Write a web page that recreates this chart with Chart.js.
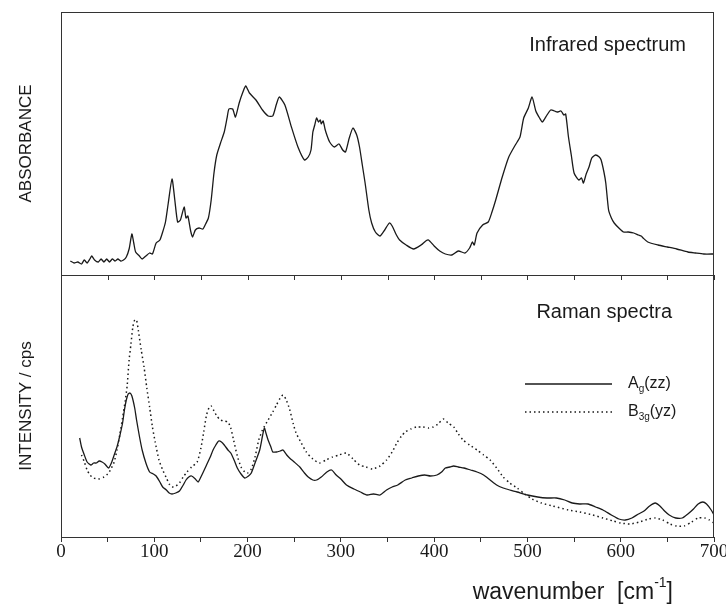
<!DOCTYPE html>
<html>
<head>
<meta charset="utf-8">
<title>Infrared and Raman spectra</title>
<script src="https://cdn.jsdelivr.net/npm/chart.js@4.4.0/dist/chart.umd.min.js"></script>
<style>
  html, body { margin: 0; padding: 0; background: #fff; }
</style>
</head>
<body>
<canvas id="spectra" width="726" height="610"></canvas>
<script>
// infrared spectrum (arbitrary absorbance units)
const irWavenumber = [10, 14, 18, 22, 25, 28, 31, 33, 36, 40, 43, 46, 49, 52, 55, 58, 61, 64, 67, 70,
  73, 76, 78, 80, 84, 87, 91, 95, 98, 102, 106, 109, 112, 115, 119, 122, 125, 128, 132, 134,
  136, 139, 141, 144, 148, 152, 155, 158, 161, 164, 167, 171, 175, 178, 180, 184, 187, 191, 195, 198,
  202, 209, 216, 222, 227, 231, 234, 240, 247, 254, 261, 265, 268, 270, 272, 274, 276, 278, 279, 281,
  283, 285, 288, 293, 298, 302, 305, 309, 313, 317, 320, 323, 326, 330, 333, 337, 342, 347, 352, 355,
  359, 363, 370, 378, 386, 391, 394, 400, 406, 412, 419, 426, 433, 438, 441, 443, 446, 452, 458, 462,
  466, 473, 480, 487, 492, 496, 501, 505, 509, 513, 516, 521, 525, 529, 532, 536, 539, 541, 544, 547,
  550, 555, 558, 560, 563, 566, 569, 573, 577, 579, 582, 584, 587, 590, 593, 598, 603, 608, 614, 619,
  622, 624, 629, 640, 650, 660, 672, 680, 689, 700];
const irAbsorbance = [14, 12, 13, 11, 15, 12, 16, 19, 15, 13, 16, 13, 16, 13, 16, 14, 16, 14, 15, 18,
  26, 41, 32, 23, 19, 16, 19, 22, 21, 32, 35, 43, 53, 72, 96, 75, 53, 55, 68, 57,
  59, 44, 38, 45, 47, 46, 51, 57, 75, 102, 120, 132, 143, 157, 166, 166, 158, 172, 183, 189,
  182, 175, 165, 159, 159, 171, 178, 170, 148, 128, 115, 118, 125, 143, 150, 157, 153, 155, 151, 154,
  146, 140, 133, 128, 131, 125, 123, 137, 147, 140, 128, 110, 92, 65, 52, 43, 39, 45, 52, 49,
  41, 35, 30, 26, 30, 34, 35, 29, 24, 21, 20, 24, 22, 27, 33, 30, 42, 50, 53, 63,
  75, 98, 118, 130, 138, 157, 167, 178, 164, 157, 153, 160, 165, 164, 163, 164, 160, 161, 138, 120,
  102, 95, 97, 92, 101, 108, 117, 120, 118, 115, 103, 92, 65, 57, 52, 47, 43, 43, 42, 40,
  39, 37, 33, 30, 28, 26, 23, 22, 21, 21];

// Raman spectra (arbitrary intensity units)
const agWavenumber = [20, 22, 25, 28, 32, 35, 38, 41, 44, 47, 51, 54, 57, 60, 63, 66, 68, 70, 72, 74,
  76, 79, 81, 84, 87, 91, 95, 99, 102, 106, 109, 113, 116, 119, 123, 127, 131, 134, 137, 140,
  144, 147, 151, 156, 160, 163, 166, 169, 172, 175, 179, 182, 186, 189, 193, 197, 201, 204, 208, 213,
  216, 218, 220, 222, 225, 227, 231, 235, 238, 242, 245, 250, 256, 261, 265, 270, 274, 279, 285, 290,
  295, 300, 306, 314, 321, 328, 335, 342, 349, 355, 361, 369, 376, 383, 390, 396, 403, 408, 412, 417,
  421, 426, 432, 439, 446, 453, 460, 467, 474, 481, 489, 500, 511, 521, 531, 540, 548, 556, 565, 573,
  581, 590, 598, 605, 612, 619, 625, 631, 637, 642, 647, 652, 659, 666, 672, 678, 683, 688, 692, 697, 700];
const agIntensity = [99, 90, 82, 75, 72, 74, 74, 76, 75, 73, 69, 74, 82, 90, 101, 114, 127, 137, 143, 144,
  141, 129, 117, 101, 87, 74, 65, 63, 61, 55, 50, 47, 44, 43, 44, 46, 52, 57, 60, 61,
  58, 55, 62, 72, 80, 87, 92, 96, 95, 92, 87, 84, 76, 69, 63, 59, 61, 64, 74, 87,
  101, 109, 103, 97, 90, 85, 85, 86, 87, 82, 79, 75, 70, 64, 60, 57, 57, 60, 65, 67,
  62, 58, 52, 48, 45, 42, 43, 42, 47, 50, 52, 57, 59, 61, 62, 61, 62, 65, 69, 70,
  71, 70, 69, 67, 65, 62, 57, 52, 49, 47, 45, 42, 40, 39, 39, 37, 34, 33, 33, 30,
  27, 22, 18, 17, 19, 23, 26, 31, 34, 31, 26, 22, 19, 19, 23, 28, 33, 35, 33, 27, 22];

const b3gWavenumber = [22, 25, 28, 31, 35, 40, 46, 50, 53, 57, 60, 63, 66, 69, 71, 73, 75, 77, 79, 81,
  83, 86, 89, 92, 95, 98, 101, 105, 109, 113, 116, 119, 123, 127, 131, 135, 140, 146, 150, 153,
  156, 159, 161, 164, 167, 171, 175, 179, 182, 185, 189, 193, 197, 200, 204, 208, 212, 216, 222, 227,
  231, 235, 238, 241, 245, 249, 252, 257, 263, 270, 277, 284, 291, 298, 306, 313, 320, 327, 334, 342,
  349, 355, 360, 365, 369, 375, 381, 388, 394, 399, 404, 410, 415, 421, 426, 431, 438, 446, 453, 460,
  467, 474, 481, 489, 497, 505, 515, 527, 544, 556, 570, 581, 592, 600, 610, 620, 630, 637, 645, 653,
  660, 668, 676, 683, 690, 695, 700];
const b3gIntensity = [82, 75, 67, 62, 59, 58, 60, 63, 67, 75, 87, 102, 119, 137, 152, 177, 193, 210, 217, 217,
  206, 187, 170, 149, 130, 110, 95, 77, 67, 59, 53, 50, 51, 54, 60, 65, 70, 75, 89, 105,
  122, 130, 131, 126, 121, 117, 116, 115, 109, 97, 81, 70, 65, 64, 68, 80, 97, 107, 117, 125,
  132, 139, 142, 138, 128, 113, 104, 95, 85, 78, 74, 77, 80, 82, 84, 78, 72, 70, 68, 71,
  77, 85, 94, 101, 105, 108, 110, 110, 109, 110, 113, 118, 114, 110, 103, 97, 92, 87, 82, 77,
  69, 60, 54, 49, 43, 38, 34, 31, 27, 25, 22, 19, 16, 14, 13, 15, 18, 19, 17, 13,
  11, 11, 15, 19, 19, 17, 14];

const xTickLabels = [0, 100, 200, 300, 400, 500, 600, 700];

function toPoints(xs, ys) {
    return xs.map((x, i) => ({ x: x, y: ys[i] }));
}

const sans = '"Liberation Sans", Arial, sans-serif';
const ink = '#1a1a1a';

function drawSubText(ctx, x, y, base, sub, rest, size) {
    ctx.font = size + 'px ' + sans;
    ctx.fillText(base, x, y);
    x += ctx.measureText(base).width;
    ctx.font = Math.round(size * 0.6) + 'px ' + sans;
    ctx.fillText(sub, x, y + size * 0.35);
    x += ctx.measureText(sub).width;
    ctx.font = size + 'px ' + sans;
    ctx.fillText(rest, x, y);
}

// frame, divider, panel captions, legend and x title
const decorations = {
    id: 'decorations',
    afterDatasetsDraw(chart) {
        const { ctx, chartArea: area, scales } = chart;
        const mid = scales.yRaman.top;
        ctx.save();
        ctx.strokeStyle = '#333';
        ctx.lineWidth = 1;
        ctx.strokeRect(area.left + 0.5, area.top + 0.5, area.right - area.left - 1, area.bottom - area.top);
        ctx.beginPath();
        ctx.moveTo(area.left, mid + 0.5);
        ctx.lineTo(area.right, mid + 0.5);
        scales.x.ticks.forEach(t => {
            const px = Math.round(scales.x.getPixelForValue(t.value)) + 0.5;
            ctx.moveTo(px, mid);
            ctx.lineTo(px, mid + 5);
        });
        ctx.stroke();

        ctx.fillStyle = ink;
        ctx.textBaseline = 'middle';
        ctx.textAlign = 'right';
        ctx.font = '20px ' + sans;
        ctx.fillText('Infrared spectrum', 686, scales.yIR.top + 33);
        ctx.fillText('Raman spectra', 672, mid + 37);

        // legend
        const ly1 = mid + 109, ly2 = mid + 137;
        ctx.strokeStyle = ink;
        ctx.lineWidth = 1.3;
        ctx.beginPath();
        ctx.moveTo(525, ly1);
        ctx.lineTo(612, ly1);
        ctx.stroke();
        ctx.setLineDash([1.5, 3]);
        ctx.beginPath();
        ctx.moveTo(525, ly2);
        ctx.lineTo(612, ly2);
        ctx.stroke();
        ctx.setLineDash([]);
        ctx.textAlign = 'left';
        drawSubText(ctx, 628, ly1, 'A', 'g', '(zz)', 16);
        drawSubText(ctx, 628, ly2, 'B', '3g', '(yz)', 16);

        // x axis title with superscript
        const ty = area.bottom + 56;
        const big = '23px ' + sans, small = '14px ' + sans;
        ctx.font = big;
        const w1 = ctx.measureText('wavenumber  [cm').width;
        const w3 = ctx.measureText(']').width;
        ctx.font = small;
        const w2 = ctx.measureText('-1').width;
        let tx = 673 - (w1 + w2 + w3);
        ctx.font = big;
        ctx.fillText('wavenumber  [cm', tx, ty);
        tx += w1;
        ctx.font = small;
        ctx.fillText('-1', tx, ty - 10);
        tx += w2;
        ctx.font = big;
        ctx.fillText(']', tx, ty);
        ctx.restore();
    }
};

const ctx = document.getElementById('spectra').getContext('2d');
const chart = new Chart(ctx, {
    type: 'line',
    data: {
        datasets: [{
            label: 'Infrared spectrum',
            data: toPoints(irWavenumber, irAbsorbance),
            yAxisID: 'yIR',
            borderColor: ink,
            borderWidth: 1.3,
            pointRadius: 0,
            tension: 0.2
        },
        {
            label: 'Ag(zz)',
            data: toPoints(agWavenumber, agIntensity),
            yAxisID: 'yRaman',
            borderColor: ink,
            borderWidth: 1.3,
            pointRadius: 0,
            tension: 0.2
        },
        {
            label: 'B3g(yz)',
            data: toPoints(b3gWavenumber, b3gIntensity),
            yAxisID: 'yRaman',
            borderColor: ink,
            borderWidth: 1.5,
            borderDash: [1.5, 3],
            pointRadius: 0,
            tension: 0.2
        }]
    },
    options: {
        responsive: false,
        animation: false,
        layout: { padding: { top: 12, right: 12, bottom: 0, left: 0 } },
        plugins: {
            legend: { display: false },
            tooltip: { enabled: false }
        },
        scales: {
            x: {
                type: 'linear',
                min: 0,
                max: 700,
                border: { display: false },
                grid: { drawOnChartArea: false, drawTicks: true, tickLength: 5, color: '#333' },
                ticks: {
                    stepSize: 50,
                    autoSkip: false,
                    maxRotation: 0,
                    padding: -1,
                    color: ink,
                    font: { family: '"Liberation Serif", "Times New Roman", serif', size: 19 },
                    callback: v => xTickLabels.includes(v) ? v : ''
                },
                afterFit: scale => {
                    scale.height = 73;
                    scale.paddingLeft = 0;
                    scale.paddingRight = 0;
                }
            },
            yRaman: {
                type: 'linear',
                position: 'left',
                stack: 'panels',
                stackWeight: 262,
                min: 0,
                max: 262,
                border: { display: false },
                grid: { display: false },
                ticks: { display: false },
                title: {
                    display: true,
                    text: 'INTENSITY / cps',
                    color: ink,
                    padding: { top: 16, bottom: 0 },
                    font: { family: sans, size: 17 }
                },
                afterFit: scale => { scale.width = 61; }
            },
            yIR: {
                type: 'linear',
                position: 'left',
                stack: 'panels',
                stackWeight: 263,
                min: 0,
                max: 263,
                border: { display: false },
                grid: { display: false },
                ticks: { display: false },
                title: {
                    display: true,
                    text: 'ABSORBANCE',
                    color: ink,
                    padding: { top: 16, bottom: 0 },
                    font: { family: sans, size: 17 }
                },
                afterFit: scale => { scale.width = 61; }
            }
        }
    },
    plugins: [decorations]
});
</script>
</body>
</html>
